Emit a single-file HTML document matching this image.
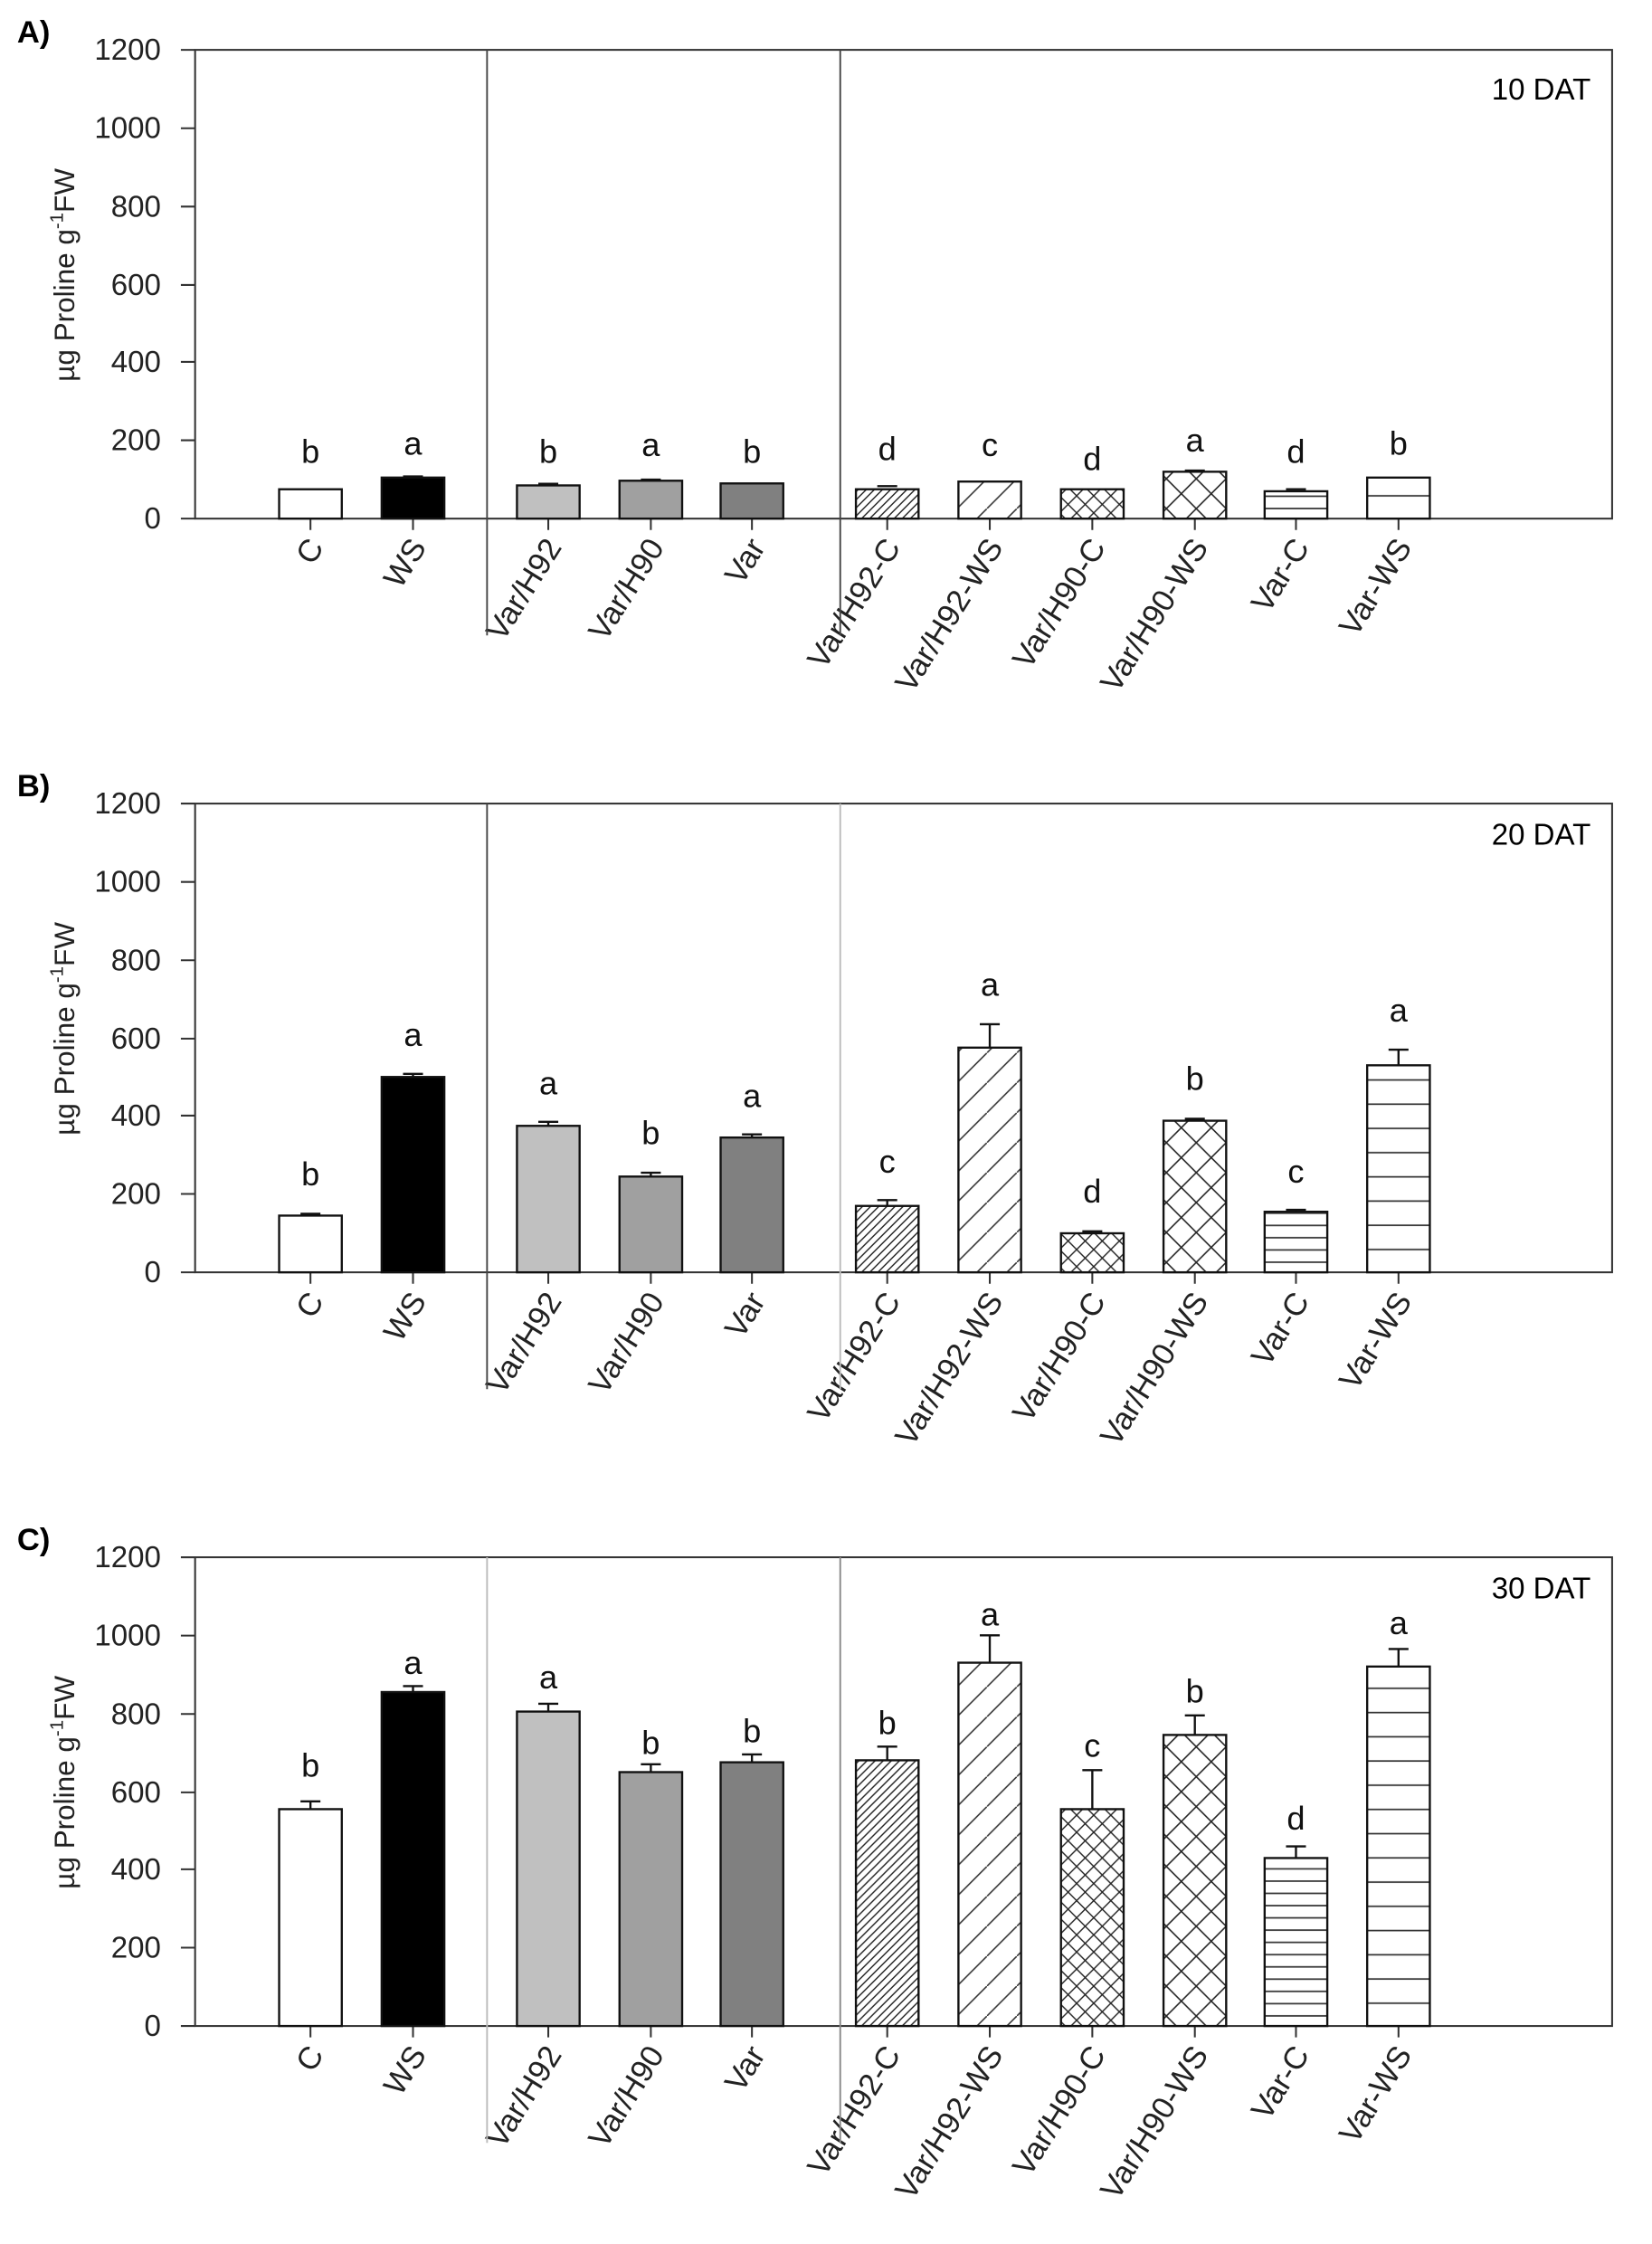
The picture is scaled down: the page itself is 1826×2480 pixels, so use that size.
<!DOCTYPE html>
<html><head><meta charset="utf-8"><style>html,body{margin:0;padding:0;background:#fff}svg{display:block}</style></head><body>
<svg width="1826" height="2480" viewBox="0 0 1160 1575" preserveAspectRatio="none" xmlns="http://www.w3.org/2000/svg" font-family="Liberation Sans, Arial, sans-serif">
<defs>
<pattern id="d1" width="5.7" height="5.7" patternUnits="userSpaceOnUse"><rect width="6" height="6" fill="#fff"/><path d="M-1,6.7 L6.7,-1 M-1,1 L1,-1 M4.7,6.7 L6.7,4.7" stroke="#222" stroke-width="0.9"/></pattern>
<pattern id="d2" width="21" height="21" patternUnits="userSpaceOnUse"><rect width="21" height="21" fill="#fff"/><path d="M-2,23 L23,-2" stroke="#333" stroke-width="1"/></pattern>
<pattern id="x1" width="12" height="12" patternUnits="userSpaceOnUse"><rect width="12" height="12" fill="#fff"/><path d="M0,0 L12,12 M12,0 L0,12" stroke="#222" stroke-width="0.9"/></pattern>
<pattern id="x2" width="21" height="21" patternUnits="userSpaceOnUse"><rect width="21" height="21" fill="#fff"/><path d="M0,0 L21,21 M21,0 L0,21" stroke="#222" stroke-width="1"/></pattern>
<pattern id="h1" width="10" height="8.6" patternUnits="userSpaceOnUse"><rect width="10" height="9" fill="#fff"/><path d="M0,4.3 H10" stroke="#333" stroke-width="1.1"/></pattern>
<pattern id="h2" width="10" height="17" patternUnits="userSpaceOnUse"><rect width="10" height="17" fill="#fff"/><path d="M0,8 H10" stroke="#333" stroke-width="1.1"/></pattern>
<g id="axes">
<rect x="137" y="35" width="995" height="329" fill="none" stroke="#333" stroke-width="1.3"/>
<g stroke="#333" stroke-width="1.3"><path d="M127,35H137M127,90H137M127,145H137M127,200H137M127,254H137M127,309H137M127,364H137"/>
<path d="M218,364v8M290,364v8M385,364v8M457,364v8M528,364v8M623,364v8M695,364v8M767,364v8M839,364v8M910,364v8M982,364v8"/></g>
<g font-size="21" text-anchor="end" fill="#222"><text x="113" y="42">1200</text><text x="113" y="97">1000</text><text x="113" y="152">800</text><text x="113" y="207">600</text><text x="113" y="261">400</text><text x="113" y="316">200</text><text x="113" y="371">0</text></g>
<text transform="translate(52,193) rotate(-90)" font-size="20" text-anchor="middle" fill="#222">µg Proline g<tspan dy="-8" font-size="13">-1</tspan><tspan dy="8">FW</tspan></text>
<g font-size="22" text-anchor="end" fill="#222">
<text transform="translate(228,384) rotate(-58)">C</text>
<text transform="translate(300,384) rotate(-58)">WS</text>
<text transform="translate(395,384) rotate(-58)">Var/H92</text>
<text transform="translate(467,384) rotate(-58)">Var/H90</text>
<text transform="translate(538,384) rotate(-58)">Var</text>
<text transform="translate(633,384) rotate(-58)">Var/H92-C</text>
<text transform="translate(705,384) rotate(-58)">Var/H92-WS</text>
<text transform="translate(777,384) rotate(-58)">Var/H90-C</text>
<text transform="translate(849,384) rotate(-58)">Var/H90-WS</text>
<text transform="translate(920,384) rotate(-58)">Var-C</text>
<text transform="translate(992,384) rotate(-58)">Var-WS</text>
</g>
</g>
</defs>

<!-- Panel A -->
<g>
<use href="#axes"/>
<path d="M342,35V446M590,35V446" stroke="#444" stroke-width="1.2"/>
<text x="12" y="30" font-size="22" font-weight="bold">A)</text>
<text x="1117" y="70" font-size="21" text-anchor="end">10 DAT</text>
<g stroke="#111" stroke-width="1.5">
<rect x="196" y="343.4" width="44" height="20.6" fill="#fff"/>
<rect x="268" y="335.2" width="44" height="28.8" fill="#000"/>
<rect x="363" y="340.7" width="44" height="23.3" fill="#c0c0c0"/>
<rect x="435" y="337.4" width="44" height="26.6" fill="#a0a0a0"/>
<rect x="506" y="339.3" width="44" height="24.7" fill="#808080"/>
<rect x="601" y="343.4" width="44" height="20.6" fill="url(#d1)"/>
<rect x="673" y="338" width="44" height="26" fill="url(#d2)"/>
<rect x="745" y="343.4" width="44" height="20.6" fill="url(#x1)"/>
<rect x="817" y="331.1" width="44" height="32.9" fill="url(#x2)"/>
<rect x="888" y="344.8" width="44" height="19.2" fill="url(#h1)"/>
<rect x="960" y="335.2" width="44" height="28.8" fill="url(#h2)"/>
<path d="M283,334.4h14M378,339.6h14M450,336.6h14M616,341.2h14M832,330.3h14M903,343.4h14" fill="none"/>
</g>
<g font-size="23" text-anchor="middle" fill="#111" transform="translate(0,-3)">
<text x="218" y="328">b</text><text x="290" y="322">a</text><text x="385" y="328">b</text><text x="457" y="323">a</text><text x="528" y="328">b</text><text x="623" y="326">d</text><text x="695" y="323">c</text><text x="767" y="333">d</text><text x="839" y="320">a</text><text x="910" y="328">d</text><text x="982" y="322">b</text>
</g>
</g>

<!-- Panel B -->
<g transform="translate(0,529)">
<use href="#axes"/>
<path d="M342,35V446" stroke="#444" stroke-width="1.2"/><path d="M590,35V446" stroke="#bbb" stroke-width="1.2"/>
<text x="12" y="30" font-size="22" font-weight="bold">B)</text>
<text x="1117" y="64" font-size="21" text-anchor="end">20 DAT</text>
<g stroke="#111" stroke-width="1.5">
<path d="M218,324.2V322.9M211,322.9h14M290,226.9V224.7M283,224.7h14M385,261.2V258.4M378,258.4h14M457,296.8V294.1M450,294.1h14M528,269.4V267.2M521,267.2h14M623,317.4V313.3M616,313.3h14M695,206.3V189.9M688,189.9h14M767,336.6V335.2M760,335.2h14M839,257.6V256.2M832,256.2h14M910,321.5V320.1M903,320.1h14M982,218.7V207.7M975,207.7h14" fill="none"/>
<rect x="196" y="324.2" width="44" height="39.8" fill="#fff"/>
<rect x="268" y="226.9" width="44" height="137.1" fill="#000"/>
<rect x="363" y="261.2" width="44" height="102.8" fill="#c0c0c0"/>
<rect x="435" y="296.8" width="44" height="67.2" fill="#a0a0a0"/>
<rect x="506" y="269.4" width="44" height="94.6" fill="#808080"/>
<rect x="601" y="317.4" width="44" height="46.6" fill="url(#d1)"/>
<rect x="673" y="206.3" width="44" height="157.7" fill="url(#d2)"/>
<rect x="745" y="336.6" width="44" height="27.4" fill="url(#x1)"/>
<rect x="817" y="257.6" width="44" height="106.4" fill="url(#x2)"/>
<rect x="888" y="321.5" width="44" height="42.5" fill="url(#h1)"/>
<rect x="960" y="218.7" width="44" height="145.3" fill="url(#h2)"/>
</g>
<g font-size="23" text-anchor="middle" fill="#111" transform="translate(0,-3)">
<text x="218" y="306">b</text><text x="290" y="208">a</text><text x="385" y="242">a</text><text x="457" y="277">b</text><text x="528" y="251">a</text><text x="623" y="297">c</text><text x="695" y="173">a</text><text x="767" y="318">d</text><text x="839" y="239">b</text><text x="910" y="304">c</text><text x="982" y="191">a</text>
</g>
</g>

<!-- Panel C -->
<g transform="translate(0,1058)">
<use href="#axes"/>
<path d="M342,35V446" stroke="#bbb" stroke-width="1.2"/><path d="M590,35V446" stroke="#888" stroke-width="1.2"/>
<text x="12" y="30" font-size="22" font-weight="bold">C)</text>
<text x="1117" y="64" font-size="21" text-anchor="end">30 DAT</text>
<g stroke="#111" stroke-width="1.5">
<path d="M218,211.8V206.3M211,206.3h14M290,129.6V125.4M283,125.4h14M385,143.3V137.8M378,137.8h14M457,185.8V180.3M450,180.3h14M528,178.9V173.4M521,173.4h14M623,177.5V167.9M616,167.9h14M695,109V89.8M688,89.8h14M767,211.8V184.4M760,184.4h14M839,159.7V146M832,146h14M910,246.1V237.9M903,237.9h14M982,111.7V99.4M975,99.4h14" fill="none"/>
<rect x="196" y="211.8" width="44" height="152.2" fill="#fff"/>
<rect x="268" y="129.6" width="44" height="234.4" fill="#000"/>
<rect x="363" y="143.3" width="44" height="220.7" fill="#c0c0c0"/>
<rect x="435" y="185.8" width="44" height="178.2" fill="#a0a0a0"/>
<rect x="506" y="178.9" width="44" height="185.1" fill="#808080"/>
<rect x="601" y="177.5" width="44" height="186.5" fill="url(#d1)"/>
<rect x="673" y="109" width="44" height="255" fill="url(#d2)"/>
<rect x="745" y="211.8" width="44" height="152.2" fill="url(#x1)"/>
<rect x="817" y="159.7" width="44" height="204.3" fill="url(#x2)"/>
<rect x="888" y="246.1" width="44" height="117.9" fill="url(#h1)"/>
<rect x="960" y="111.7" width="44" height="252.3" fill="url(#h2)"/>
</g>
<g font-size="23" text-anchor="middle" fill="#111" transform="translate(0,-3)">
<text x="218" y="192">b</text><text x="290" y="120">a</text><text x="385" y="130">a</text><text x="457" y="176">b</text><text x="528" y="168">b</text><text x="623" y="162">b</text><text x="695" y="86">a</text><text x="767" y="178">c</text><text x="839" y="140">b</text><text x="910" y="229">d</text><text x="982" y="92">a</text>
</g>
</g>
</svg>
</body></html>
